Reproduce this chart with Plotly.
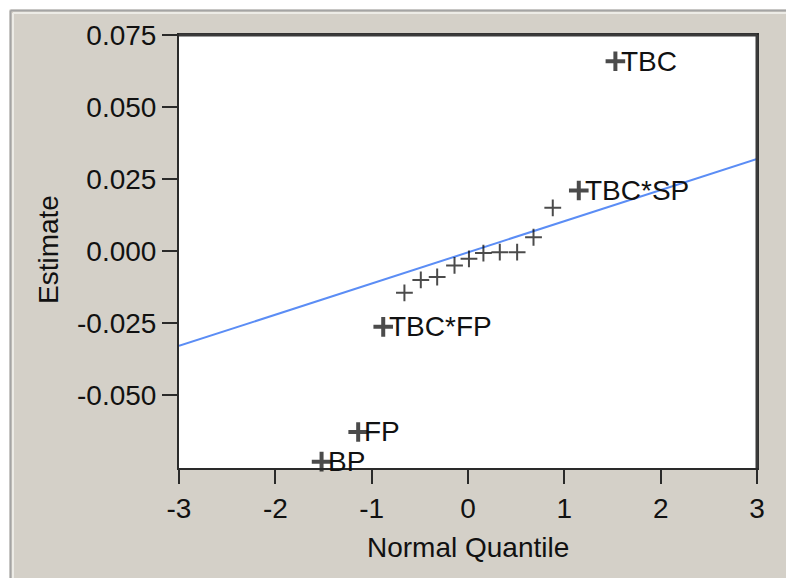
import plotly.graph_objects as go

# ---- data ----
quantiles = [-1.52, -1.14, -0.88, -0.66, -0.49, -0.32, -0.14, 0.01, 0.16, 0.33, 0.51, 0.68, 0.88, 1.15, 1.53]
estimates = [-0.0731, -0.0628, -0.0263, -0.0145, -0.0100, -0.0090, -0.0050, -0.0027, -0.0007, -0.0004, -0.0004, 0.0048, 0.0150, 0.0210, 0.0659]
labels = ["BP", "FP", "TBC*FP", "", "", "", "", "", "", "", "", "", "", "TBC*SP", "TBC"]

fit_intercept = -0.00045
fit_slope = 0.01082

x_ticks = [-3, -2, -1, 0, 1, 2, 3]
x_ticktext = ["-3", "-2", "-1", "0", "1", "2", "3"]
y_ticks = [-0.050, -0.025, 0.000, 0.025, 0.050, 0.075]
y_ticktext = ["-0.050", "-0.025", "0.000", "0.025", "0.050", "0.075"]

x_range = [-3, 3]
y_range = [-0.0753, 0.075]

# ---- layout geometry (pixels) ----
W_FIG, H_FIG = 786, 578
L, R, T, B = 179, 757, 35, 468
PW, PH = R - L, B - T


def px(xp):
    return (xp - L) / PW


def py(yp):
    return (B - yp) / PH


FONT = "Liberation Sans, Arial, sans-serif"
INK = "#111111"
AXC = "#2a2a2a"

fig = go.Figure()

# fit line
fig.add_trace(go.Scatter(
    x=x_range,
    y=[fit_intercept + fit_slope * v for v in x_range],
    mode="lines",
    line=dict(color="#5B8DF5", width=2),
    hoverinfo="skip",
    showlegend=False,
    cliponaxis=True,
))

# points
is_lab = [bool(s) for s in labels]
fig.add_trace(go.Scatter(
    x=quantiles,
    y=estimates,
    mode="markers",
    marker=dict(
        symbol="cross-thin",
        size=[14 if b else 12 for b in is_lab],
        color="#000000",
        line=dict(color="#000000", width=[4 if b else 2 for b in is_lab]),
    ),
    showlegend=False,
    cliponaxis=False,
))

annotations = []
for q, e, s in zip(quantiles, estimates, labels):
    if s:
        annotations.append(dict(
            x=q, y=e, xref="x", yref="y", text=s, showarrow=False,
            xanchor="left", yanchor="middle", xshift=4, yshift=0,
            font=dict(family=FONT, size=28, color=INK),
        ))

# axis titles
annotations.append(dict(
    x=0.5, y=py(547), xref="paper", yref="paper", text="Normal Quantile",
    showarrow=False, xanchor="center", yanchor="middle",
    font=dict(family=FONT, size=28, color=INK),
))
annotations.append(dict(
    x=px(48), y=py(250), xref="paper", yref="paper", text="Estimate",
    showarrow=False, xanchor="center", yanchor="middle", textangle=-90,
    font=dict(family=FONT, size=28, color=INK),
))

shapes = [
    # white strips at top and left
    dict(type="rect", xref="paper", yref="paper", x0=px(0), x1=px(W_FIG), y0=py(9.5), y1=py(0),
         fillcolor="white", line=dict(width=0), layer="above"),
    dict(type="rect", xref="paper", yref="paper", x0=px(0), x1=px(9.5), y0=py(H_FIG), y1=py(0),
         fillcolor="white", line=dict(width=0), layer="above"),
    # frame edges
    dict(type="line", xref="paper", yref="paper", x0=px(10.5), x1=px(W_FIG), y0=py(10.5), y1=py(10.5),
         line=dict(color="#a4a4a4", width=2), layer="above"),
    dict(type="line", xref="paper", yref="paper", x0=px(10.5), x1=px(10.5), y0=py(10.5), y1=py(H_FIG),
         line=dict(color="#a4a4a4", width=2), layer="above"),
    dict(type="line", xref="paper", yref="paper", x0=px(13), x1=px(W_FIG), y0=py(13), y1=py(13),
         line=dict(color="#ecebe6", width=2), layer="above"),
    dict(type="line", xref="paper", yref="paper", x0=px(13), x1=px(13), y0=py(13), y1=py(H_FIG),
         line=dict(color="#ecebe6", width=2), layer="above"),
    # heavier top/right frame of the plot area
    dict(type="line", xref="paper", yref="paper", x0=0, x1=1, y0=1, y1=1,
         line=dict(color="#3a3a3a", width=3), layer="above"),
    dict(type="line", xref="paper", yref="paper", x0=1, x1=1, y0=0, y1=1,
         line=dict(color="#3a3a3a", width=3), layer="above"),
]

fig.update_layout(
    width=W_FIG, height=H_FIG,
    margin=dict(l=L, r=W_FIG - R, t=T, b=H_FIG - B, pad=0),
    paper_bgcolor="#D4D0C8",
    plot_bgcolor="white",
    annotations=annotations,
    shapes=shapes,
    showlegend=False,
    xaxis=dict(
        range=x_range, tickvals=x_ticks, ticktext=x_ticktext,
        ticks="outside", ticklen=14, tickwidth=2, tickcolor=AXC,
        showline=True, linecolor=AXC, linewidth=2, mirror=True,
        showgrid=False, zeroline=False,
        tickfont=dict(family=FONT, size=28, color=INK),
        fixedrange=True,
    ),
    yaxis=dict(
        range=y_range, tickvals=y_ticks, ticktext=y_ticktext,
        ticks="outside", ticklen=15, tickwidth=2, tickcolor=AXC,
        showline=True, linecolor=AXC, linewidth=2, mirror=True,
        showgrid=False, zeroline=False,
        tickfont=dict(family=FONT, size=28, color=INK),
        fixedrange=True,
    ),
)

fig.write_html("out.html")
